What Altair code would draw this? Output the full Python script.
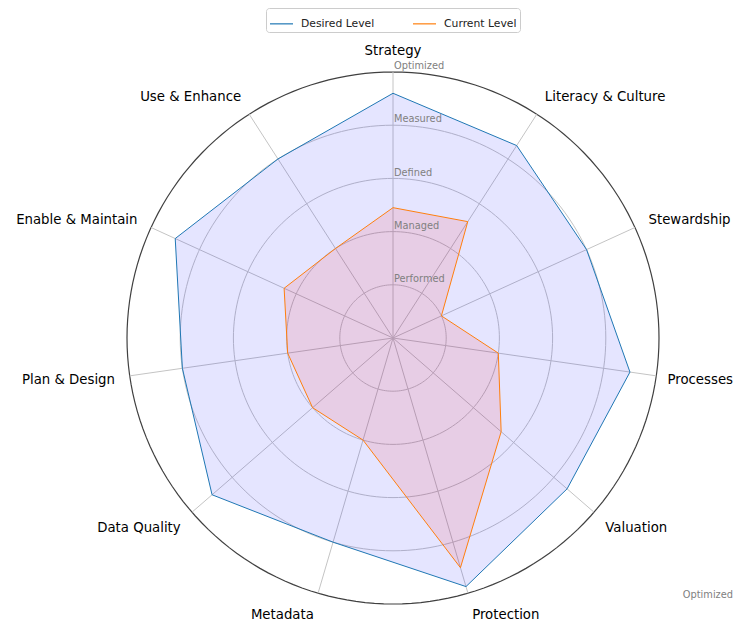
import altair as alt
import pandas as pd

# ---- data ----
categories = ["Strategy", "Literacy & Culture", "Stewardship", "Processes", "Valuation",
              "Protection", "Metadata", "Data Quality", "Plan & Design",
              "Enable & Maintain", "Use & Enhance"]
desired = [4.6, 4.3, 4.0, 4.5, 4.33, 4.87, 4.0, 4.5, 4.0, 4.5, 4.0]
current = [2.45, 2.6, 1.0, 2.0, 2.69, 4.5, 2.0, 2.0, 2.0, 2.25, 2.0]
level_names = ["Performed", "Managed", "Defined", "Measured", "Optimized"]
level_values = [1, 2, 3, 4, 5]
series_names = ["Desired Level", "Current Level"]
series_colors = ["#1f77b4", "#ff7f0e"]

N = len(categories)
RMAX = 5
W, H = 725, 614
UNIT = 53.2           # pixels per level
CX, CY = 385, 330     # centre in plot pixels
XMAX = (W - CX) / UNIT

xscale = alt.Scale(domain=[-CX / UNIT, XMAX], nice=False, zero=False)
yscale = alt.Scale(domain=[-(H - CY) / UNIT, CY / UNIT], nice=False, zero=False)

theta_expr = f"PI/2 - datum.idx*2*PI/{N}"

# polygon tables (closed by repeating the first point)
poly_rows = []
for s, vals in zip(series_names, [desired, current]):
    for i in range(N + 1):
        poly_rows.append({"series": s, "idx": i, "value": vals[i % N]})
poly_df = pd.DataFrame(poly_rows)

axes_df = pd.DataFrame({"category": categories, "idx": list(range(N))})
levels_df = pd.DataFrame({"name": level_names, "level": level_values})
ring_df = pd.DataFrame([{"level": lv, "k": k} for lv in level_values for k in range(0, 181)])

def xy(chart, rfield):
    return chart.transform_calculate(
        theta=theta_expr
    ).transform_calculate(
        px=f"datum.{rfield}*cos(datum.theta)",
        py=f"datum.{rfield}*sin(datum.theta)",
    )

X = alt.X("px:Q", scale=xscale, axis=None)
Y = alt.Y("py:Q", scale=yscale, axis=None)

# rings
rings_base = alt.Chart(ring_df).transform_calculate(
    ang="datum.k*2*PI/180"
).transform_calculate(
    px="datum.level*cos(datum.ang)", py="datum.level*sin(datum.ang)"
)
inner_rings = rings_base.transform_filter(f"datum.level < {RMAX}").mark_line(
    stroke="#c4c4c4", strokeWidth=1
).encode(x=X, y=Y, detail="level:N", order="k:Q")
outer_ring = rings_base.transform_filter(f"datum.level == {RMAX}").mark_line(
    stroke="#404040", strokeWidth=1.2
).encode(x=X, y=Y, order="k:Q")

# spokes
spokes = alt.Chart(axes_df).transform_calculate(
    theta=theta_expr
).transform_calculate(
    px=f"{RMAX}*cos(datum.theta)", py=f"{RMAX}*sin(datum.theta)", zx="0", zy="0"
).mark_rule(stroke="#c4c4c4", strokeWidth=1).encode(
    x=alt.X("zx:Q", scale=xscale, axis=None),
    y=alt.Y("zy:Q", scale=yscale, axis=None),
    x2="px:Q", y2="py:Q",
)

# fills
fill_desired = xy(alt.Chart(poly_df).transform_filter(f"datum.series == '{series_names[0]}'"), "value").mark_line(
    fill="#0000ff", fillOpacity=0.1, strokeOpacity=0
).encode(x=X, y=Y, order="idx:Q")
fill_current = xy(alt.Chart(poly_df).transform_filter(f"datum.series == '{series_names[1]}'"), "value").mark_line(
    fill="#ff0000", fillOpacity=0.1, strokeOpacity=0
).encode(x=X, y=Y, order="idx:Q")

# outlines (with legend)
lines = xy(alt.Chart(poly_df), "value").mark_line(strokeWidth=1).encode(
    x=X, y=Y, order="idx:Q",
    color=alt.Color("series:N",
                    scale=alt.Scale(domain=series_names, range=series_colors),
                    legend=alt.Legend(title=None, orient="none", legendX=258, legendY=0,
                                      direction="horizontal", columns=2,
                                      symbolType="stroke", symbolSize=529,
                                      symbolStrokeWidth=1.2,
                                      labelFontSize=10.8, labelFont="DejaVu Sans",
                                      labelColor="#222222", labelOffset=7,
                                      columnPadding=35, padding=3,
                                      strokeColor="#cccccc", cornerRadius=3,
                                      fillColor="white")),
)

# category labels
lab_base = alt.Chart(axes_df).transform_calculate(
    theta=theta_expr
).transform_calculate(
    px="5.28*cos(datum.theta)", py="5.41*sin(datum.theta) - 0.02", cx="cos(datum.theta)"
)
lab_kw = dict(font="DejaVu Sans", fontSize=13.3, color="#000000", baseline="middle")
lab_left = lab_base.transform_filter("datum.cx > 0.01 && datum.cx < 0.95").mark_text(
    align="left", **lab_kw).encode(x=X, y=Y, text="category:N")
# the right-most label is kept inside the canvas edge
lab_edge = lab_base.transform_filter("datum.cx >= 0.95").transform_calculate(
    px=f"{XMAX}"
).mark_text(align="right", **lab_kw).encode(x=X, y=Y, text="category:N")
lab_right = lab_base.transform_filter("datum.cx < -0.01").mark_text(align="right", **lab_kw).encode(
    x=X, y=Y, text="category:N")
lab_center = lab_base.transform_filter("abs(datum.cx) <= 0.01").mark_text(align="center", **lab_kw).encode(
    x=X, y=Y, text="category:N")

# level labels along top spoke
lvl_labels = alt.Chart(levels_df).transform_calculate(
    px="0", py="datum.level + 0.11"
).mark_text(align="left", baseline="middle", dx=1, font="DejaVu Sans",
            fontSize=9.8, color="#808080").encode(x=X, y=Y, text="name:N")

# stray corner label (kept inside the right edge)
corner = alt.Chart(pd.DataFrame({"name": [level_names[-1]]})).transform_calculate(
    px=f"{XMAX}", py="-4.83"
).mark_text(
    align="right", baseline="middle", font="DejaVu Sans", fontSize=9.8, color="#808080"
).encode(x=X, y=Y, text="name:N")

chart = alt.layer(
    inner_rings, outer_ring, spokes, fill_desired, fill_current, lines,
    lab_left, lab_edge, lab_right, lab_center, lvl_labels, corner
).properties(
    width=W, height=H, padding=0, autosize=alt.AutoSizeParams(type="none"),
    background="white"
).configure_view(strokeWidth=0)

chart.save("out.html", embed_options={"renderer": "svg", "actions": False})
